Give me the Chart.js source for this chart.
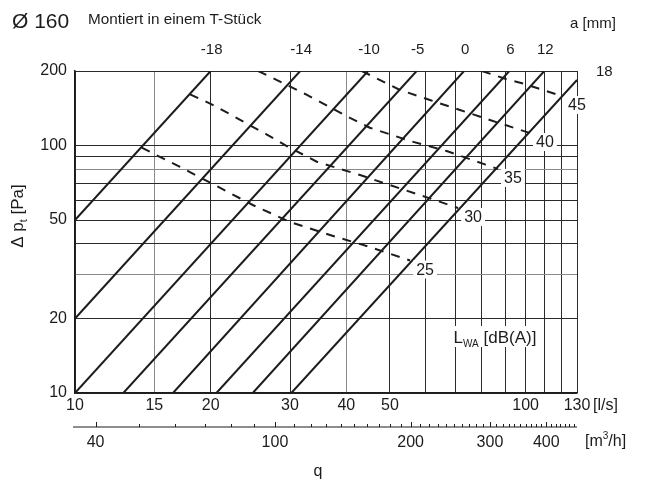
<!DOCTYPE html>
<html>
<head>
<meta charset="utf-8">
<script src="https://cdn.jsdelivr.net/npm/chart.js@4.4.1/dist/chart.umd.min.js"></script>
<style>
html,body{margin:0;padding:0;background:#fff;}
#wrap{width:653px;height:487px;position:relative;}
</style>
</head>
<body>
<div id="wrap"><canvas id="c" width="653" height="487"></canvas></div>
<script>
// ---------- DATA ----------
// Axes (flow q in l/s, pressure drop in Pa)
const xTicks = [10, 15, 20, 30, 40, 50, 60, 70, 80, 90, 100, 110, 120, 130];
const xTickLabels = [10, 15, 20, 30, 40, 50, 100, 130];
const yTicks = [10, 20, 30, 40, 50, 60, 70, 80, 90, 100, 200];
const yTickLabels = [10, 20, 50, 100, 200];
// secondary flow axis in m3/h
const m3hTicks = [40, 50, 60, 70, 80, 90, 100, 110, 120, 130, 140, 150, 160, 170, 180, 190, 200,
  210, 220, 230, 240, 250, 260, 270, 280, 290, 300, 310, 320, 330, 340, 350, 360, 370, 380, 390,
  400, 410, 420, 430, 440, 450, 460];
const m3hTickLabels = [40, 100, 200, 300, 400];

// Damper setting lines a [mm] (solid): start and end points (q, dp)
const aLabels = ['-18', '-14', '-10', '-5', '0', '6', '12', '18'];
const aStartQ = [10, 10, 10, 12.8, 16.5, 20.6, 24.8, 30.2];
const aStartP = [50, 20, 10, 10, 10, 10, 10, 10];
const aEndQ   = [20, 31.6, 44.7, 57.3, 73, 92, 110, 130];
const aEndP   = [200, 200, 200, 200, 200, 200, 200, 184];

// Sound power level lines LWA [dB(A)] (dashed)
const lwaLabels = ['25', '30', '35', '40', '45'];
const lwa25Q = [14.06, 17.1, 20.8, 24.8, 30.0, 36.8, 45.1, 55.4];
const lwa25P = [98, 81.9, 68, 57.5, 49.1, 43.5, 38.9, 34.3];
const lwa30Q = [18.0, 20.1, 22.1, 24.2, 26.6, 29.5, 34.4, 42.9, 52.6, 62.9, 70.8];
const lwa30P = [161, 146.7, 133.7, 121.8, 111, 99.5, 86.0, 76.0, 67.1, 60.2, 55.9];
const lwa35Q = [25.5, 28.9, 32.4, 36.4, 40.75, 45.1, 55.4, 66.8, 81.2, 86.8];
const lwa35P = [200, 178.9, 161.5, 144.4, 129.2, 118, 104.3, 95.0, 83.9, 80.4];
const lwa40Q = [43.3, 52.6, 61.3, 71.5, 83.3, 102.2];
const lwa40P = [200, 167.6, 152.7, 139.1, 126.8, 112.3];
const lwa45Q = [80.0, 90.4, 99.6, 109.2, 120.4];
const lwa45P = [200, 185.7, 177.2, 167.6, 158.5];

// ---------- STYLE ----------
const FONT = '"Liberation Sans", Arial, Helvetica, sans-serif';
const INK = '#1c1c1c';
const GRID_DARK = '#2a2a2a';
const GRID_LIGHT = '#8a8a8a';
const LS_TO_M3H = 3.6;

const lwaQ = [lwa25Q, lwa30Q, lwa35Q, lwa40Q, lwa45Q];
const lwaP = [lwa25P, lwa30P, lwa35P, lwa40P, lwa45P];

const datasets = [];
aLabels.forEach((lab, i) => {
  datasets.push({
    label: 'a ' + lab,
    data: [{x: aStartQ[i], y: aStartP[i]}, {x: aEndQ[i], y: aEndP[i]}],
    borderColor: INK, borderWidth: 2, pointRadius: 0, tension: 0, fill: false
  });
});
lwaLabels.forEach((lab, i) => {
  datasets.push({
    label: 'LWA ' + lab,
    data: lwaQ[i].map((q, k) => ({x: q, y: lwaP[i][k]})),
    borderColor: INK, borderWidth: 2, borderDash: [9, 8], pointRadius: 0, tension: 0, fill: false
  });
});

function drawParts(ctx, parts, x, baseline, align) {
  let w = 0;
  parts.forEach(p => { ctx.font = p[1] + 'px ' + FONT; w += ctx.measureText(p[0]).width; });
  let xx = align === 'left' ? x : x - w / 2;
  ctx.textAlign = 'left';
  ctx.textBaseline = 'alphabetic';
  parts.forEach(p => {
    ctx.font = p[1] + 'px ' + FONT;
    ctx.fillText(p[0], xx, baseline + p[2]);
    xx += ctx.measureText(p[0]).width;
  });
  return w;
}

const overlay = {
  id: 'overlay',
  afterDatasetsDraw(chart) {
    const {ctx, chartArea: ca, scales} = chart;
    const xs = scales.x, ys = scales.y;
    ctx.save();
    ctx.fillStyle = INK;

    // Titles
    drawParts(ctx, [['Ø 160', 21, 0]], 12, 28, 'left');
    drawParts(ctx, [['Montiert in einem T-Stück', 15.3, 0]], 88, 24, 'left');
    drawParts(ctx, [['a [mm]', 15, 0]], 570, 28, 'left');

    // a labels at the top ends of the solid lines
    ctx.font = '15px ' + FONT;
    ctx.textBaseline = 'middle';
    aLabels.forEach((lab, i) => {
      if (aEndP[i] >= 200) {
        ctx.textAlign = 'center';
        ctx.fillText(lab, xs.getPixelForValue(aEndQ[i]) + 1, ca.top - 21);
      } else {
        ctx.textAlign = 'left';
        ctx.fillText(lab, ca.right + 19, ys.getPixelForValue(aEndP[i]) - 8);
      }
    });

    // LWA labels with white background
    ctx.font = '16px ' + FONT;
    lwaLabels.forEach((lab, i) => {
      const q = lwaQ[i][lwaQ[i].length - 1];
      const p = lwaP[i][lwaP[i].length - 1];
      const cx = xs.getPixelForValue(q) + 15;
      const cy = ys.getPixelForValue(p) + 9;
      const w = ctx.measureText(lab).width;
      ctx.fillStyle = '#fff';
      ctx.fillRect(cx - w / 2 - 3, cy - 9, w + 6, 18);
      ctx.fillStyle = INK;
      ctx.textAlign = 'center';
      ctx.textBaseline = 'middle';
      ctx.fillText(lab, cx, cy + 1);
    });

    // L_WA [dB(A)] label
    ctx.fillStyle = '#fff';
    ctx.fillRect(ca.right - 127, ca.bottom - 67, 90, 21);
    ctx.fillStyle = INK;
    drawParts(ctx, [['L', 17, 0], ['WA', 10, 4], [' [dB(A)]', 17, 0]], ca.right - 82, ca.bottom - 50, 'center');

    // [l/s] unit
    ctx.font = '16px ' + FONT;
    ctx.textAlign = 'left';
    ctx.textBaseline = 'middle';
    ctx.fillText('[l/s]', ca.right + 16, ca.bottom + 13);

    // secondary axis m3/h
    const axY = ca.bottom + 34;
    ctx.strokeStyle = INK;
    ctx.lineWidth = 1.2;
    ctx.beginPath();
    ctx.moveTo(ca.left - 2, axY);
    ctx.lineTo(ca.right, axY);
    ctx.stroke();
    ctx.lineWidth = 1;
    m3hTicks.forEach(v => {
      const px = Math.round(xs.getPixelForValue(v / LS_TO_M3H)) + 0.5;
      const major = m3hTickLabels.includes(v);
      ctx.beginPath();
      ctx.moveTo(px, axY);
      ctx.lineTo(px, axY - (major ? 5 : 3));
      ctx.stroke();
    });
    ctx.font = '16px ' + FONT;
    ctx.textAlign = 'center';
    ctx.textBaseline = 'middle';
    m3hTickLabels.forEach(v => {
      ctx.fillText(String(v), xs.getPixelForValue(v / LS_TO_M3H), axY + 16);
    });
    drawParts(ctx, [['[m', 16, 0], ['3', 10, -7], ['/h]', 16, 0]], ca.right + 8, axY + 19, 'left');

    // q axis title
    drawParts(ctx, [['q', 16, 0]], 318, 476, 'center');

    // y title rotated
    ctx.translate(23, 216);
    ctx.rotate(-Math.PI / 2);
    drawParts(ctx, [['Δ p', 17, 0], ['t', 11, 4], [' [Pa]', 17, 0]], 0, 0, 'center');
    ctx.restore();
  }
};

const chart = new Chart(document.getElementById('c'), {
  type: 'line',
  data: {datasets},
  options: {
    responsive: false,
    animation: false,
    devicePixelRatio: 1,
    layout: {padding: {top: 71, left: 0, right: 76, bottom: 64}},
    plugins: {legend: {display: false}, tooltip: {enabled: false}, title: {display: false}},
    scales: {
      x: {
        type: 'logarithmic', min: 10, max: 130,
        afterBuildTicks: s => { s.ticks = xTicks.map(v => ({value: v})); },
        afterFit: s => { s.height = 30; },
        ticks: {
          autoSkip: false, maxRotation: 0, minRotation: 0, padding: 3,
          color: INK, font: {family: FONT, size: 16},
          callback: v => xTickLabels.includes(v) ? String(v) : ''
        },
        grid: {
          drawTicks: false, lineWidth: 1,
          color: c => ([15, 40].includes(c.tick.value) ? GRID_LIGHT : GRID_DARK)
        },
        border: {display: true, color: INK, width: 1.5}
      },
      y: {
        type: 'logarithmic', min: 10, max: 200,
        afterBuildTicks: s => { s.ticks = yTicks.map(v => ({value: v})); },
        afterFit: s => { s.width = 75; },
        ticks: {
          autoSkip: false, padding: 8,
          color: INK, font: {family: FONT, size: 16},
          callback: v => yTickLabels.includes(v) ? String(v) : ''
        },
        grid: {
          drawTicks: false, lineWidth: 1,
          color: c => ([30, 80].includes(c.tick.value) ? GRID_LIGHT : GRID_DARK)
        },
        border: {display: true, color: INK, width: 1.5}
      }
    }
  },
  plugins: [overlay]
});
</script>
</body>
</html>
